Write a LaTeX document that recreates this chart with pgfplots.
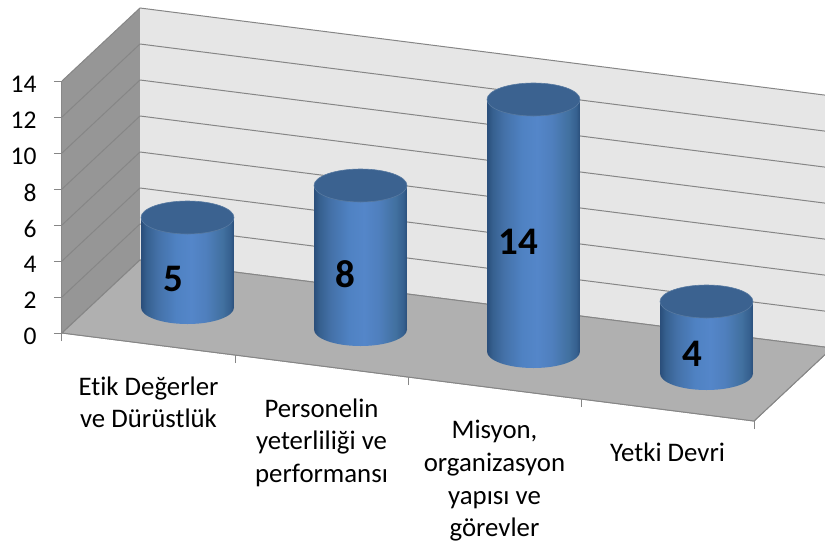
\documentclass[border=0pt]{standalone}
\usepackage{pgfplots}
\pgfplotsset{compat=1.18}
\usepackage{fontspec}
\setmainfont{Carlito}[Ligatures=NoCommon]
\definecolor{wallL}{HTML}{969696}
\definecolor{wallB}{HTML}{E6E6E6}
\definecolor{floorC}{HTML}{B0B0B0}
\definecolor{gridC}{HTML}{868686}
\definecolor{topC}{HTML}{3B6290}
\definecolor{sa}{HTML}{2A4E7A}
\definecolor{sb}{HTML}{36608F}
\definecolor{sc}{HTML}{4471A8}
\definecolor{sd}{HTML}{4F82C3}
\definecolor{se}{HTML}{5486C9}
\definecolor{sf}{HTML}{4F7FBD}
\definecolor{sg}{HTML}{41709F}
\pgfdeclarehorizontalshading{cylside}{100bp}{
  color(0bp)=(sa); color(25bp)=(sa); color(28bp)=(sb);
  color(34bp)=(sc); color(44bp)=(sd); color(52bp)=(se);
  color(60bp)=(sf); color(69bp)=(sg); color(73bp)=(sb);
  color(75bp)=(sa); color(100bp)=(sa)}
\pgfdeclareplotmark{cylbot}{\shade[draw=none,shading=cylside] (0,0) ellipse [x radius=46.5pt,y radius=16.5pt];}
\pgfdeclareplotmark{cyltop}{\fill[topC,draw=topC!85!white,line width=.6pt] (0,0) ellipse [x radius=46.5pt,y radius=16.5pt];}
\pgfdeclareplotmark{ztk}{\draw[gridC,line width=1pt] (-8pt,0pt) -- (0pt,0pt);}
\pgfdeclareplotmark{xtk}{\draw[gridC,line width=1pt] (0pt,-8pt) -- (0pt,0pt);}
% x, y (centre on the floor), value
\newcommand\cyl[3]{%
  \pgfmathsetmacro\xa{#1-0.2366}\pgfmathsetmacro\xb{#1+0.2366}%
  \pgfmathsetmacro\ya{#2-0.0713}\pgfmathsetmacro\yb{#2+0.0713}%
  \addplot3[only marks,mark=cylbot,mark options={draw=none}] coordinates {(#1,#2,0)};
  \addplot3[draw=none,shading=cylside] coordinates {(\xa,\ya,0) (\xb,\yb,0) (\xb,\yb,#3) (\xa,\ya,#3)} -- cycle;
  \addplot3[only marks,mark=cyltop] coordinates {(#1,#2,#3)};
}
\newcommand\lev[1]{\addplot3[gridC,line width=1pt] coordinates {(0,0,#1) (0,1,#1) (4,1,#1)};}
\begin{document}
\begin{tikzpicture}
\path[clip,use as bounding box] (0,0) rectangle (825pt,-541pt);
\begin{axis}[
  at={(62pt,-333pt)},anchor=origin,
  x={(173pt,-22pt)},y={(78pt,73pt)},z={(0pt,18pt)},
  xmin=0,xmax=4,ymin=0,ymax=1,zmin=0,zmax=14,
  clip=false,axis on top=false,
  axis x line*=bottom,axis y line*=left,axis z line*=left,
  axis line style={gridC,line width=1pt},
  tick style={draw=none},
  ytick=\empty,
  ztick={0,2,...,14},
  xtick={0.5,1.5,2.5,3.5},
  major tick length=0pt,
  xticklabels={{Etik Değerler\\ve Dürüstlük},{Personelin\\yeterliliği ve\\performansı},{Misyon,\\organizasyon\\yapısı ve\\görevler},{Yetki Devri}},
  xticklabel style={align=center,anchor=north,font=\fontsize{26.8}{32.6}\selectfont,yshift=-29pt},
  zticklabel style={anchor=east,font=\fontsize{25.5}{28}\selectfont,xshift=-22pt,yshift=-3.5pt},
  /pgf/number format/assume math mode=true,
]
\addplot3[draw=none,fill=wallL] coordinates {(0,0,0) (0,1,0) (0,1,14) (0,0,14)} -- cycle;
\addplot3[draw=none,fill=wallB] coordinates {(0,1,0) (4,1,0) (4,1,14) (0,1,14)} -- cycle;
\lev{0}\lev{2}\lev{4}\lev{6}\lev{8}\lev{10}\lev{12}\lev{14}
\addplot3[fill=floorC,draw=gridC,line width=1pt] coordinates {(0,0,0) (4,0,0) (4,1,0) (0,1,0)} -- cycle;
\addplot3[only marks,mark=ztk] coordinates {(0,0,0) (0,0,2) (0,0,4) (0,0,6) (0,0,8) (0,0,10) (0,0,12) (0,0,14)};
\addplot3[only marks,mark=xtk] coordinates {(0,0,0) (1,0,0) (2,0,0) (3,0,0) (4,0,0)};
\cyl{0.5}{0.5}{5}
\cyl{1.5}{0.5}{8}
\cyl{2.5}{0.5}{14}
\cyl{3.5}{0.5}{4}
\addplot3[only marks,mark=none,point meta=explicit symbolic,
  nodes near coords,nodes near coords align={center},
  every node near coord/.append style={font=\fontsize{39}{42}\bfseries\selectfont,text=black}]
  coordinates {(0.515,0.28,2.5)[5] (1.51,0.28,4)[8] (2.51,0.28,7)[14] (3.515,0.28,2)[4]};
\end{axis}
\end{tikzpicture}
\end{document}
